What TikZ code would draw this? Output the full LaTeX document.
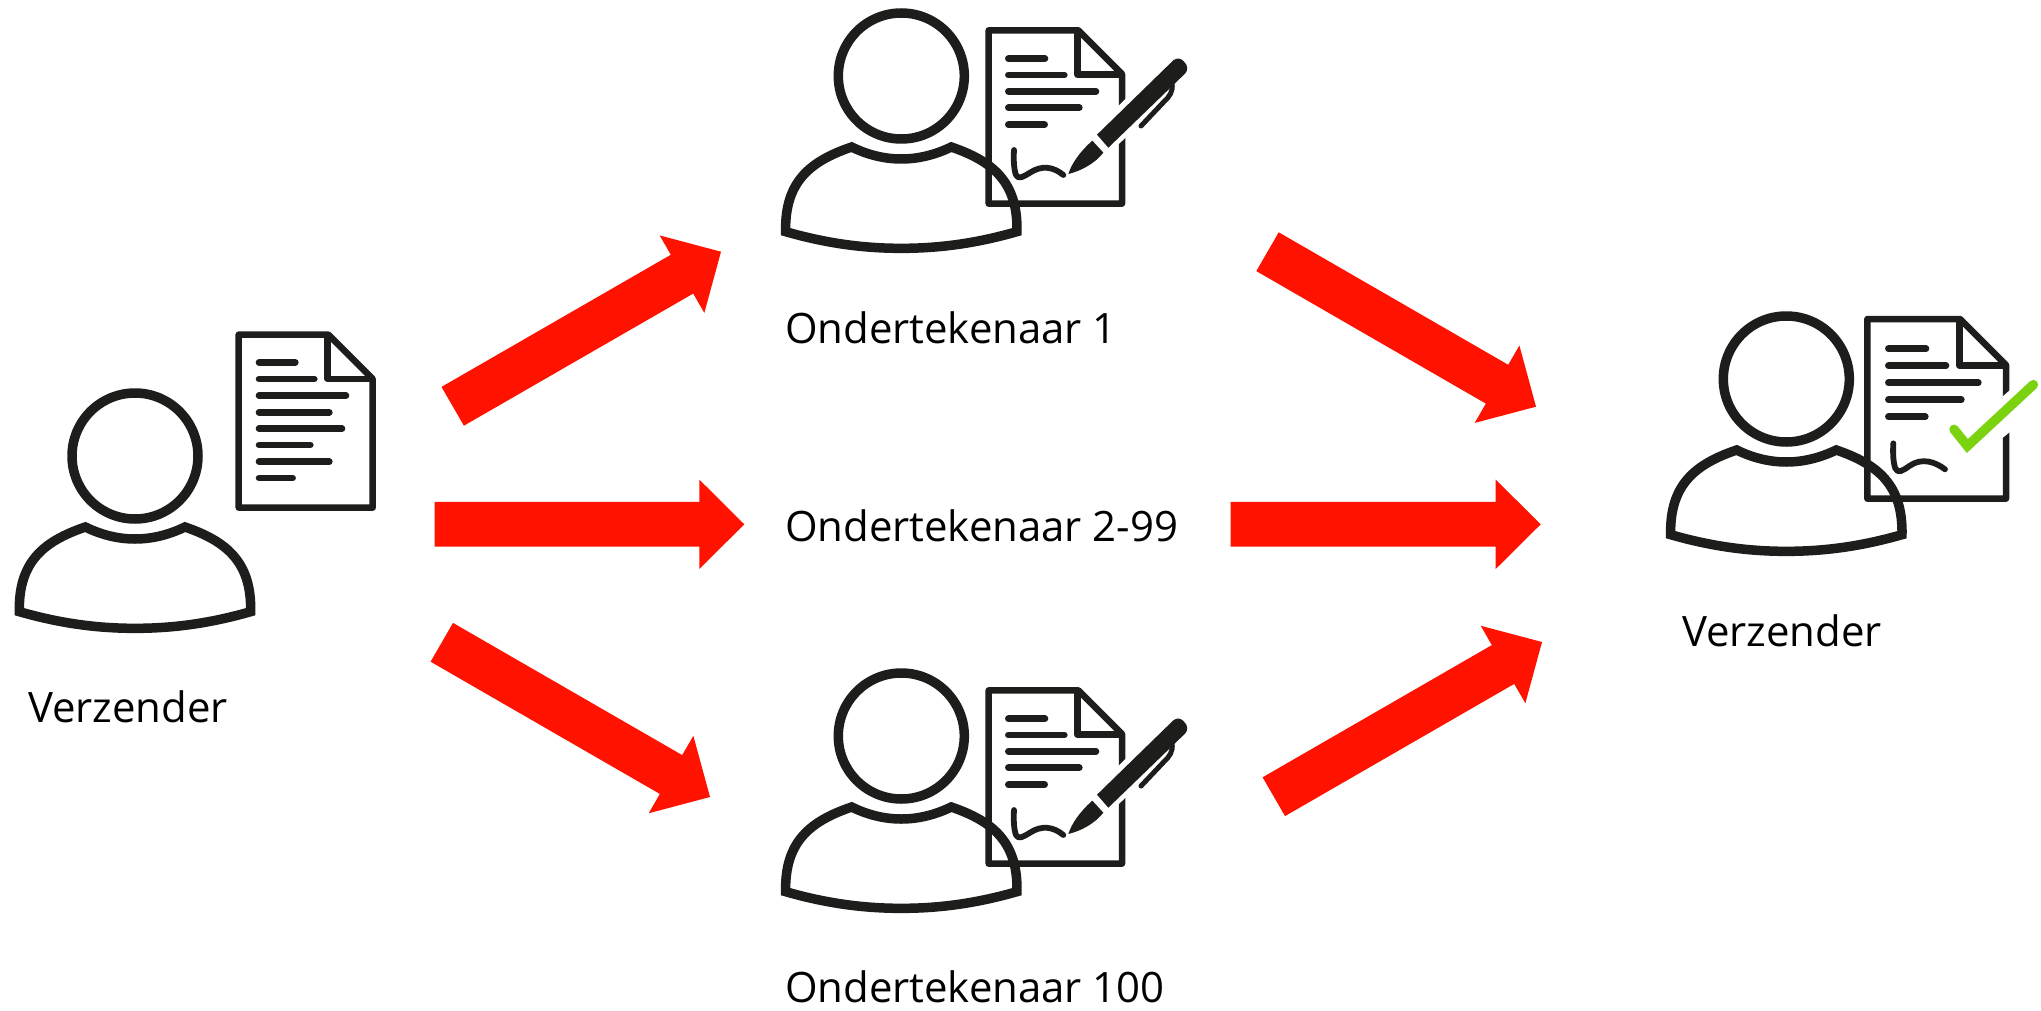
\documentclass[tikz,border=0pt]{standalone}
\usepackage{fontspec}
\setmainfont{Open Sans}
\usetikzlibrary{calc}
\definecolor{inkc}{HTML}{1D1D1B}
\definecolor{redc}{HTML}{FF1300}
\definecolor{greenc}{HTML}{7BD20E}
\tikzset{
  zoomunits/.style={x=0.33333pt,y=-0.33333pt},
  ring/.style={draw=inkc,line width=9.5pt,miter limit=20,line join=miter},
  sheet/.style={draw=inkc,line width=6.5pt,line join=round},
  textline/.style={draw=inkc,line width=6.6pt,line cap=round},
  scribble/.style={draw=inkc,line width=5.8pt,line cap=round,line join=round},
  fat/.style={fill=redc,draw=none},
  label/.style={anchor=base west,inner sep=0pt,outer sep=0pt,font=\fontsize{41.9}{42}\selectfont,text=black}
}
\newcommand{\personicon}[2]{%
  \begin{scope}[shift={(#1,#2)},zoomunits]
    \draw[ring] (0,0) circle[radius=189];
    \draw[ring] (-149,213) .. controls (-100,237) and (-50,249) .. (0,249)
      .. controls (50,249) and (100,237) .. (150,213)
      .. controls (275,256) and (350,318) .. (347,467)
      .. controls (225,502) and (115,517) .. (0,517)
      .. controls (-115,517) and (-225,502) .. (-347,467)
      .. controls (-350,318) and (-275,256) .. (-149,213) -- cycle;
  \end{scope}}
\newcommand{\signedsheet}[2]{%
  \begin{scope}[shift={(#1,#2)},zoomunits]
    \draw[sheet] (686,91) -- (955,91) -- (1086,222) -- (1086,611) -- (686,611) -- cycle;
    \draw[sheet] (952,91) -- (952,224) -- (1086,224);
    \foreach \yy/\xx in {176/855,225/913,274/1008,323/958,374/854}
      \draw[textline] (745,\yy) -- (\xx,\yy);
    \draw[scribble] (762,450) .. controls (760,480) and (762,510) .. (768,525)
      .. controls (775,540) and (790,530) .. (810,518)
      .. controls (845,495) and (880,500) .. (910,525);
    % gap in the sheet edge around the pen
    \fill[white] (1070,323) -- (1102,291) -- (1102,408) -- (1070,438) -- cycle;
    % pen
    \fill[inkc] (1011,404) -- (1240,181)
      .. controls (1250,172) and (1265,175) .. (1272,185)
      .. controls (1284,195) and (1284,212) .. (1276,220) -- (1045,443) -- cycle;
    \fill[inkc] (997,422) -- (1030,458)
      .. controls (1005,490) and (965,512) .. (925,522)
      .. controls (935,490) and (960,455) .. (997,422) -- cycle;
    \draw[inkc,line width=5pt,line cap=round,line join=round]
      (1236,250) .. controls (1240,275) and (1228,290) .. (1212,305) -- (1143,378);
  \end{scope}}
\newcommand{\fatarrow}[2]{%
  \coordinate (hb) at ($(#2)!45pt!(#1)$);
  \fill[fat] ($(#1)!22.4pt!90:(#2)$) -- ($(hb)!22.4pt!90:(#2)$) -- ($(hb)!44.7pt!90:(#2)$)
    -- (#2) -- ($(hb)!44.7pt!-90:(#2)$) -- ($(hb)!22.4pt!-90:(#2)$) -- ($(#1)!22.4pt!-90:(#2)$) -- cycle;}
\begin{document}
\begin{tikzpicture}[x=1pt,y=-1pt]
\useasboundingbox (0,0) rectangle (2041,1011);
\fill[white] (0,0) rectangle (2041,1011);

% sender with plain sheet
\personicon{135}{456}
\begin{scope}[shift={(0,320)},zoomunits]
  \draw[sheet] (716,44) -- (985,44) -- (1118,177) -- (1118,563) -- (716,563) -- cycle;
  \draw[sheet] (983,44) -- (983,177) -- (1118,177);
  \foreach \yy/\xx in {127/886,177/943,227/1038,277/988,326/1026,375/931,425/988,474/878}
    \draw[textline] (777,\yy) -- (\xx,\yy);
\end{scope}
\node[label] (sender) at (28,722) {Verzender};

% signers
\personicon{901.3}{76}
\signedsheet{760}{0}
\node[label] (signerA) at (785,343) {Ondertekenaar 1};
\node[label] (signerB) at (785,541) {Ondertekenaar 2-99};
\personicon{901.3}{736}
\signedsheet{760}{660}
\node[label] (signerC) at (785,1002.5) {Ondertekenaar 100};

% sender with checked sheet
\personicon{1786.3}{379}
\begin{scope}[shift={(1640,300)},zoomunits]
  \draw[sheet] (682,57) -- (960,57) -- (1098,195) -- (1098,596) -- (682,596) -- cycle;
  \draw[sheet] (958,57) -- (958,197) -- (1098,197);
  \foreach \yy/\xx in {146/858,197/918,248/1015,299/964,350/856}
    \draw[textline] (745,\yy) -- (\xx,\yy);
  \draw[scribble] (760,430) .. controls (758,460) and (760,490) .. (766,505)
    .. controls (773,522) and (788,512) .. (808,498)
    .. controls (845,472) and (885,485) .. (915,508);
  \fill[white] (1085,292) -- (1112,268) -- (1112,394) -- (1085,416) -- cycle;
  \draw[greenc,line width=9.5pt,line cap=round,line join=miter] (942,388) -- (982,438) -- (1180,254);
\end{scope}
\node[label] (receiver) at (1682,646) {Verzender};

% arrows
\coordinate (a1s) at (452.7,406.3); \coordinate (a1e) at (721,251.7);
\coordinate (a2s) at (434.7,524.3); \coordinate (a2e) at (744.3,524.3);
\coordinate (a3s) at (441.8,642.3); \coordinate (a3e) at (710,797);
\coordinate (b1s) at (1267.5,251.7); \coordinate (b1e) at (1536,406.7);
\coordinate (b2s) at (1230.7,524.3); \coordinate (b2e) at (1540.7,524.3);
\coordinate (b3s) at (1273.8,796.7); \coordinate (b3e) at (1542,642);
\fatarrow{a1s}{a1e}
\fatarrow{a2s}{a2e}
\fatarrow{a3s}{a3e}
\fatarrow{b1s}{b1e}
\fatarrow{b2s}{b2e}
\fatarrow{b3s}{b3e}
\end{tikzpicture}
\end{document}
